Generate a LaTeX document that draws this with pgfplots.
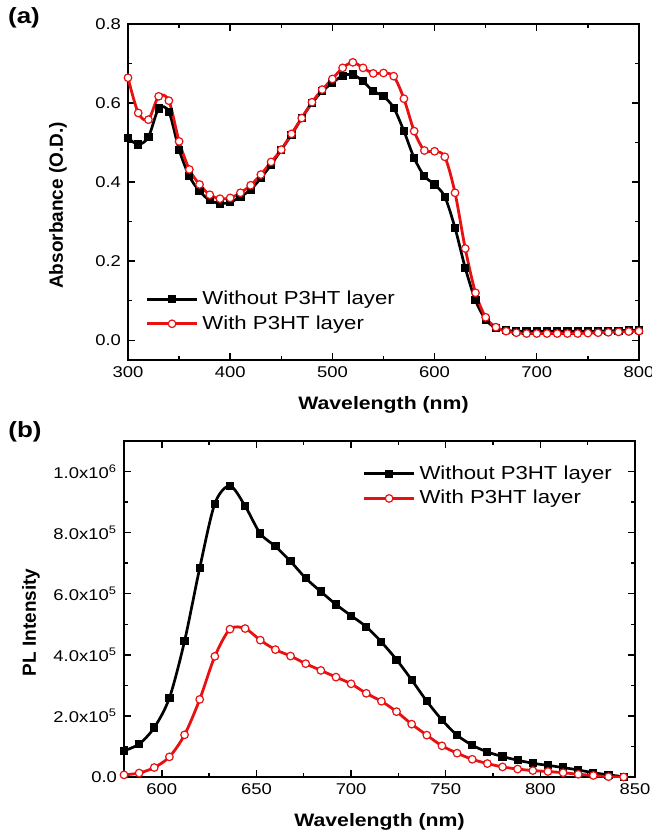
\documentclass[border=0pt]{standalone}
\usepackage{fontspec}
\setmainfont{Liberation Sans}[FakeStretch=1.18]
\newfontfamily\ylabfont{Liberation Sans}
\usepackage{pgfplots}
\usepackage{pgfplotstable}
\pgfplotsset{compat=1.18}
\definecolor{pred}{RGB}{232,16,16}

% absorbance, 10 nm steps
\pgfplotstableread{
wl   without with
300  0.512  0.664
310  0.495  0.575
320  0.514  0.558
330  0.586  0.617
340  0.578  0.606
350  0.482  0.503
360  0.415  0.432
370  0.377  0.394
380  0.354  0.368
390  0.346  0.358
400  0.349  0.360
410  0.363  0.373
420  0.381  0.392
430  0.410  0.419
440  0.444  0.451
450  0.482  0.482
460  0.520  0.522
470  0.562  0.562
480  0.600  0.602
490  0.630  0.634
500  0.651  0.661
510  0.669  0.689
520  0.672  0.703
530  0.655  0.689
540  0.630  0.675
550  0.617  0.676
560  0.588  0.668
570  0.529  0.611
580  0.461  0.529
590  0.415  0.480
600  0.394  0.478
610  0.363  0.464
620  0.284  0.373
630  0.183  0.232
640  0.101  0.120
650  0.052  0.058
660  0.031  0.033
670  0.025  0.023
680  0.023  0.019
690  0.023  0.017
700  0.023  0.017
710  0.023  0.017
720  0.023  0.017
730  0.023  0.017
740  0.023  0.017
750  0.023  0.018
760  0.023  0.019
770  0.024  0.020
780  0.024  0.021
790  0.025  0.022
800  0.025  0.023
}\absdata

% PL, 8 nm steps
\pgfplotstableread{
wl   without  with
580  86000    7000
588  108000   13000
596  162000   31000
604  259000   66000
612  445000   138000
620  684000   254000
628  895000   395000
636  953000   484000
644  887000   486000
652  797000   448000
660  755000   417000
668  706000   396000
676  651000   371000
684  607000   349000
692  565000   327000
700  528000   305000
708  492000   274000
716  442000   248000
724  384000   214000
732  318000   173000
740  248000   137000
748  187000   102000
756  137000   78000
764  104000   58000
772  82000    44000
780  67000    33000
788  55000    26000
796  45000    21000
804  38000    18000
812  31000    14000
820  23000    9000
828  14000    5000
836  7000     1000
844  1000     0
}\pldata

\pgfplotsset{
  panel/.style={
    scale only axis, width=255.5pt, height=168pt,
    axis line style={line width=0.8pt},
    tick align=inside, major tick length=3.5pt, minor tick length=2pt,
    every tick/.style={black, line width=0.7pt},
    tick label style={font=\fontsize{7.8}{9}\selectfont},
    xlabel style={font=\fontsize{9}{11}\selectfont\bfseries},
    ylabel style={font=\fontsize{9.5}{11}\selectfont\ylabfont\bfseries},
    legend style={draw=none, fill=none, font=\fontsize{9.4}{11}\selectfont, row sep=0pt},
    legend cell align=left,
    legend image code/.code={\draw[mark repeat=2,mark phase=2] plot coordinates {(0pt,0pt) (12.5pt,0pt) (25pt,0pt)};},
    /pgf/number format/assume math mode=true,
    minor x tick num=1, minor y tick num=1,
  },
  woline/.style={black, line width=1.35pt, smooth, mark=square*, mark size=1.8pt, mark options={solid, line width=0.5pt}},
  wiline/.style={pred, line width=1.4pt, smooth, mark=*, mark size=1.9pt, mark options={solid, fill=white, draw=pred, line width=0.6pt}},
}

\begin{document}
\begin{tikzpicture}
\useasboundingbox (-62pt,-27pt) rectangle (264pt,388.5pt);

\begin{axis}[panel, at={(2pt,208.5pt)}, anchor=south west,
  xmin=300, xmax=800, ymin=-0.05, ymax=0.8,
  xtick={300,400,...,800}, ytick={0,0.2,0.4,0.6,0.8},
  yticklabel style={/pgf/number format/.cd, fixed, fixed zerofill, precision=1},
  xlabel={Wavelength (nm)}, ylabel={Absorbance (O.D.)},
  xlabel style={at={(axis description cs:0.5,-0.134)}, anchor=center},
  ylabel style={at={(axis description cs:-0.137,0.46)}, anchor=center},
  legend style={at={(0.022,0.058)}, anchor=south west}]
\addplot[woline] table[x=wl, y=without] {\absdata};
\addplot[wiline] table[x=wl, y=with] {\absdata};
\legend{Without P3HT layer, With P3HT layer}
\end{axis}

\begin{axis}[panel, at={(0pt,0pt)}, anchor=south west,
  xmin=580, xmax=850, ymin=0, ymax=1.1e6,
  xtick={600,650,...,850}, ytick={0,2e5,4e5,6e5,8e5,1e6},
  scaled y ticks=false,
  yticklabels={0.0, 2.0x10\textsuperscript{5}, 4.0x10\textsuperscript{5}, 6.0x10\textsuperscript{5}, 8.0x10\textsuperscript{5}, 1.0x10\textsuperscript{6}},
  xlabel={Wavelength (nm)}, ylabel={PL Intensity},
  xlabel style={at={(axis description cs:0.5,-0.134)}, anchor=center},
  ylabel style={at={(axis description cs:-0.182,0.46)}, anchor=center},
  legend style={at={(0.975,0.952)}, anchor=north east}]
\addplot[woline] table[x=wl, y=without] {\pldata};
\addplot[wiline] table[x=wl, y=with] {\pldata};
\legend{Without P3HT layer, With P3HT layer}
\end{axis}

\node[font=\fontsize{11}{13}\selectfont\bfseries] at (-50pt,379.5pt) {(a)};
\node[font=\fontsize{11}{13}\selectfont\bfseries] at (-49.5pt,172.5pt) {(b)};
\end{tikzpicture}
\end{document}
